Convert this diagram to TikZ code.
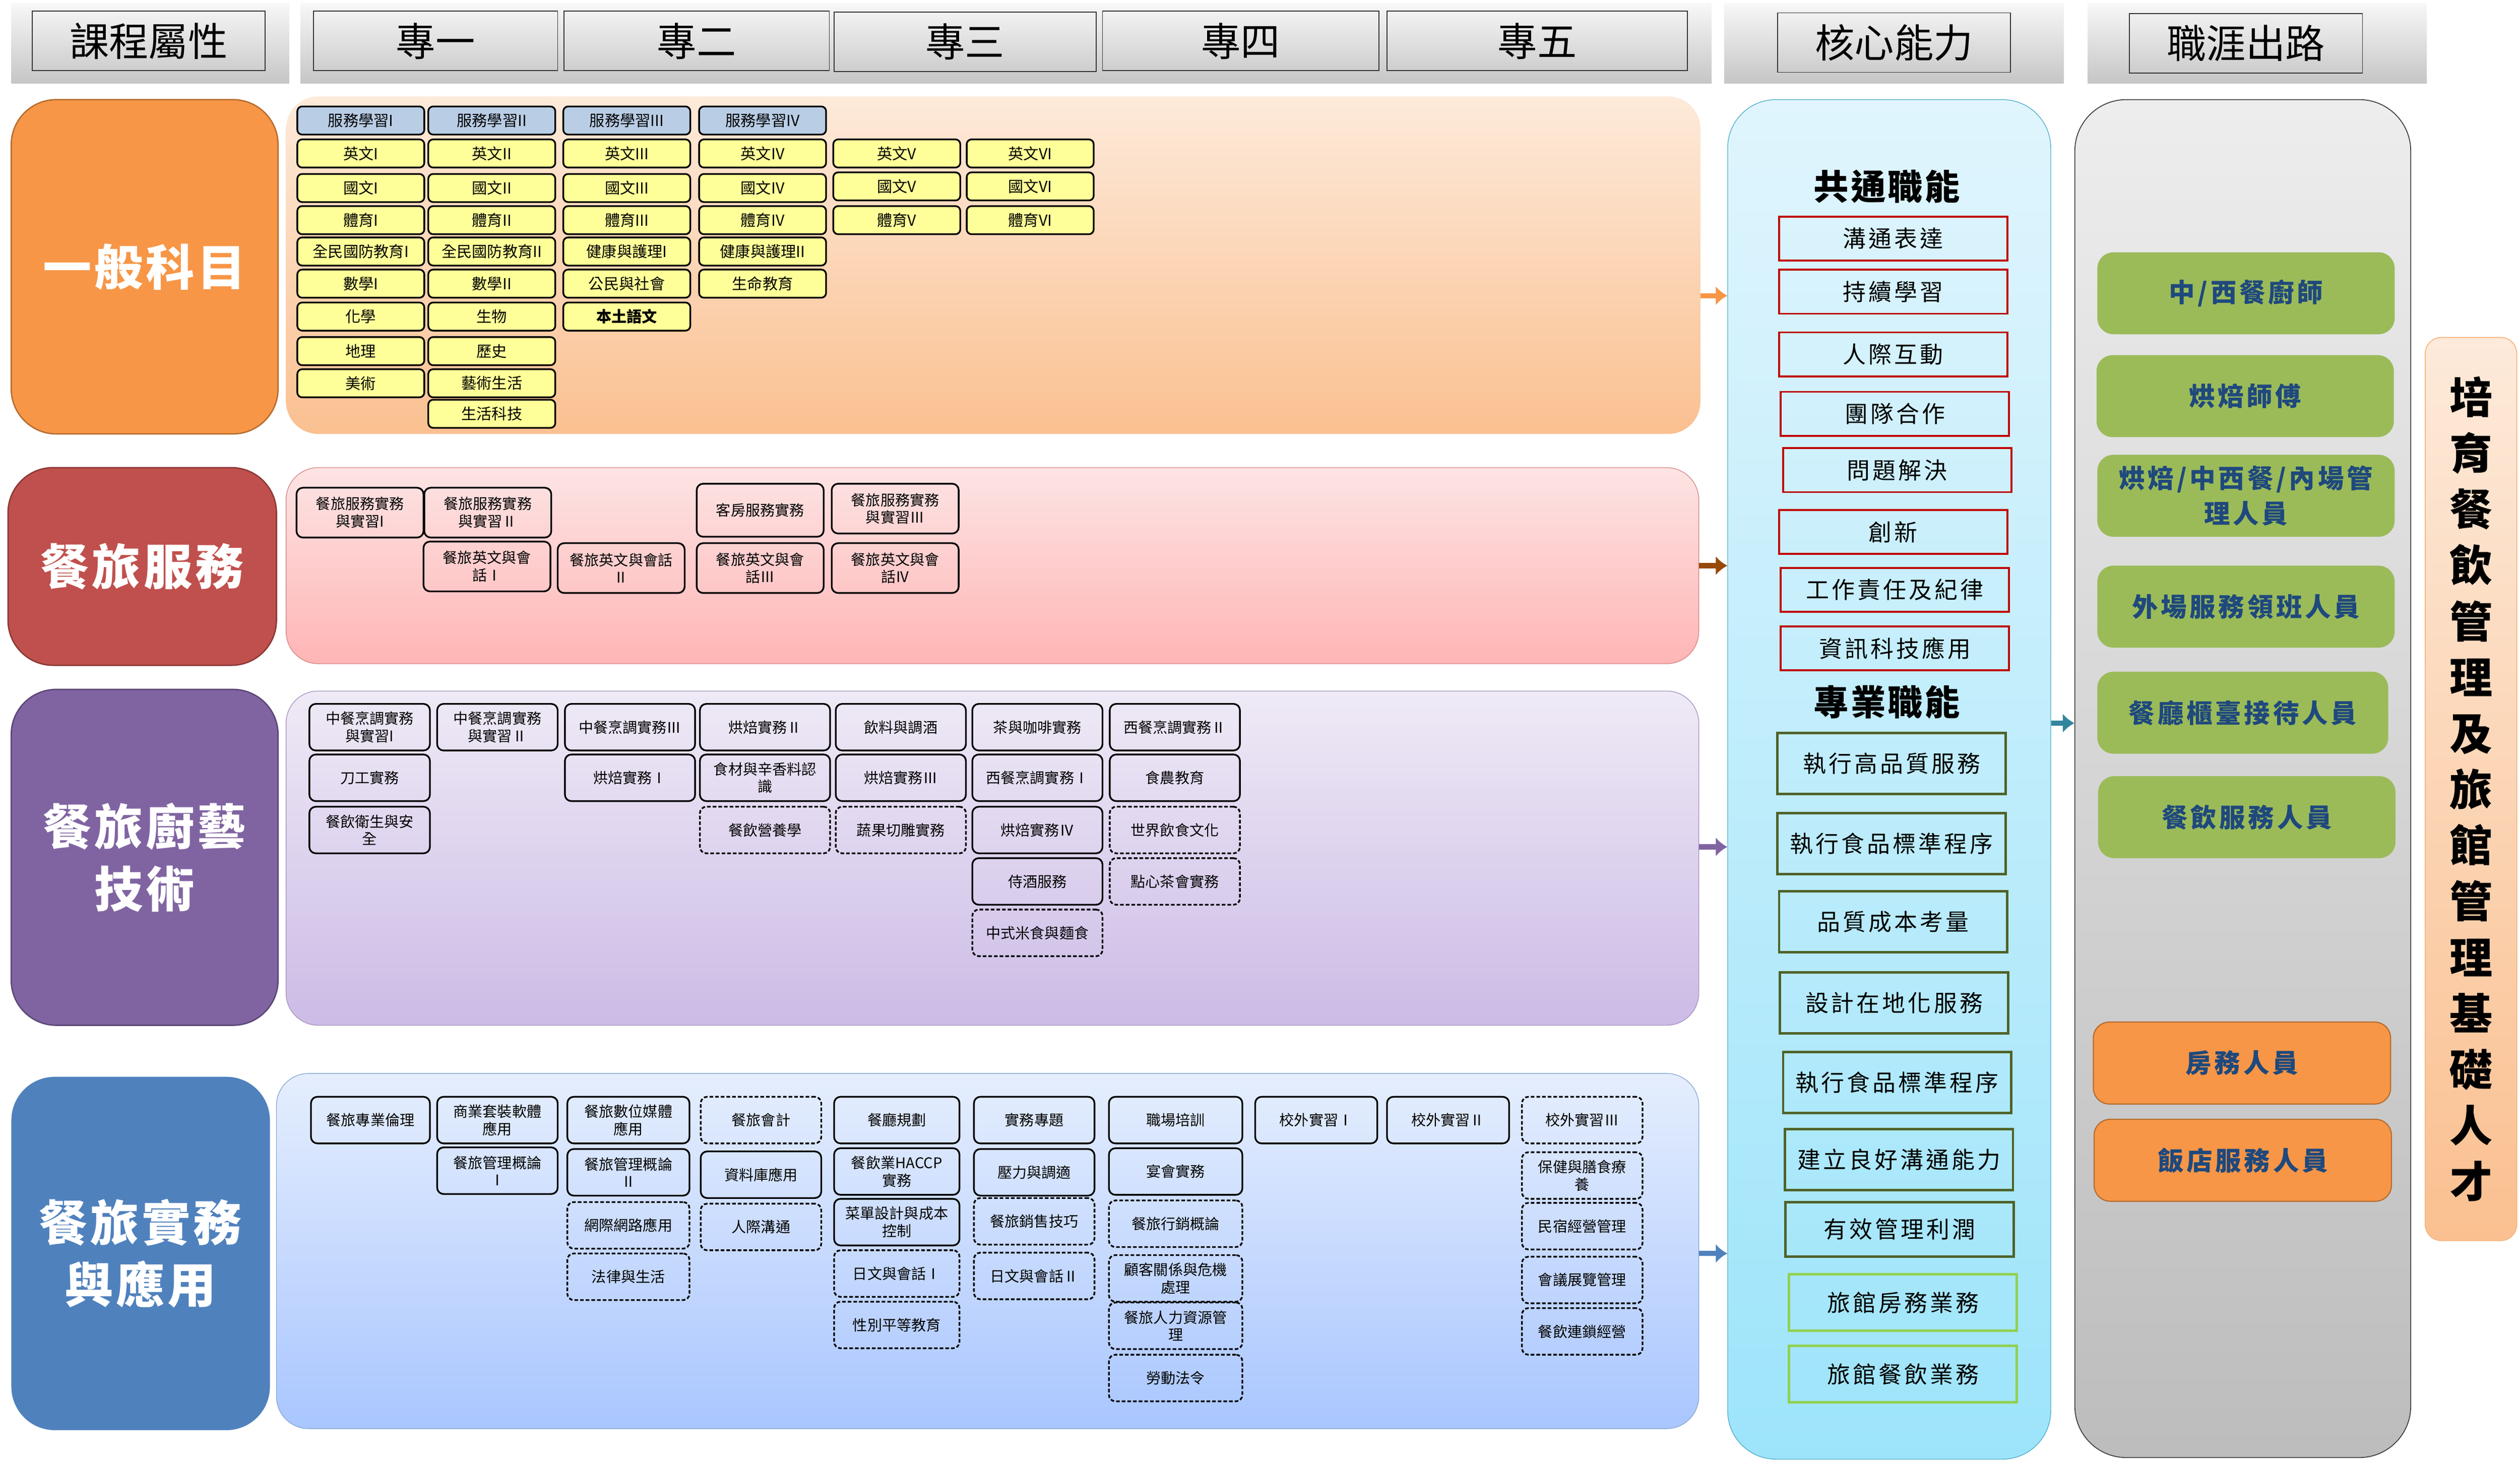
\documentclass[tikz,border=0pt]{standalone}
\usepackage{fontspec}
\setmainfont{Noto Sans CJK TC}
\newfontfamily\espace[LetterSpace=6]{Noto Sans CJK TC}
\newfontfamily\espacebis[LetterSpace=11]{Noto Sans CJK TC}
\usetikzlibrary{arrows.meta}

\definecolor{orangeC}{HTML}{F79646}
\definecolor{orangeB}{HTML}{B66D31}
\definecolor{rougeC}{HTML}{C0504D}
\definecolor{rougeB}{HTML}{8C3836}
\definecolor{violetC}{HTML}{8064A2}
\definecolor{violetB}{HTML}{5C4776}
\definecolor{bleuC}{HTML}{4F81BD}
\definecolor{jaune}{HTML}{FFFF99}
\definecolor{bleuP}{HTML}{B9CDE5}
\definecolor{rouge}{HTML}{C00000}
\definecolor{olive}{HTML}{4F6228}
\definecolor{vertC}{HTML}{92D050}
\definecolor{vertM}{HTML}{9BBB59}
\definecolor{bleuT}{HTML}{1F497D}
\definecolor{cyanB}{HTML}{4BACC6}
\definecolor{sarcelle}{HTML}{31859C}
\definecolor{brun}{HTML}{984807}
\definecolor{p1h}{HTML}{FDEADA}
\definecolor{p1b}{HTML}{FAC090}
\definecolor{p2h}{HTML}{FDE4E4}
\definecolor{p2b}{HTML}{FFB5B5}
\definecolor{p3h}{HTML}{EFEAF6}
\definecolor{p3b}{HTML}{CCBBE6}
\definecolor{p4h}{HTML}{E5EEFD}
\definecolor{p4b}{HTML}{A9C6FF}
\definecolor{ch}{HTML}{E0F5FD}
\definecolor{cb}{HTML}{9DE4FA}

\begin{document}
\begin{tikzpicture}[x=0.5mm, y=-0.5mm]
  \tikzstyle{bande}=[top color=gray!6, bottom color=gray!45];
  \tikzstyle{entete}=[draw=black!80, line width=.8pt, minimum height=18.5mm, inner sep=0, font=\fontsize{35}{35}\selectfont];
  \tikzstyle{categorie}=[rounded corners=14mm, line width=1.2pt, text=white, align=center, font=\espace\bfseries\fontsize{43}{55}\selectfont];
  \tikzstyle{panneau}=[rounded corners=10mm, line width=.6pt];
  \tikzstyle{cours}=[draw, line width=1.5pt, rounded corners=1.5mm, fill=jaune, minimum width=39.5mm, minimum height=8.75mm, inner sep=0, font=\fontsize{13.5}{15}\selectfont];
  \tikzstyle{service}=[cours, fill=bleuP];
  \tikzstyle{module}=[draw, line width=1.5pt, rounded corners=2mm, minimum width=39.5mm, minimum height=15.5mm, inner sep=0, align=center, font=\fontsize{13}{15.5}\selectfont];
  \tikzstyle{atelier}=[module, minimum height=14.5mm];
  \tikzstyle{option}=[dash pattern=on 3.2pt off 1.8pt];
  \tikzstyle{commun}=[draw=rouge, line width=1.7pt, minimum width=71mm, minimum height=13.7mm, inner sep=0, font=\espacebis\fontsize{20.5}{22}\selectfont];
  \tikzstyle{pro}=[commun, draw=olive, line width=2.2pt, minimum height=19mm];
  \tikzstyle{hotel}=[pro, draw=vertC, minimum height=17.5mm];
  \tikzstyle{soustitre}=[inner sep=0, font=\espace\bfseries\fontsize{31}{31}\selectfont];
  \tikzstyle{metier}=[fill=vertM, rounded corners=5mm, minimum width=92.5mm, minimum height=25.5mm, inner sep=0, align=center, text=bleuT, font=\espacebis\bfseries\fontsize{23}{31}\selectfont];
  \tikzstyle{metierO}=[metier, fill=orangeC, draw=orangeB, line width=1pt];
  \tikzstyle{colonne}=[top color=p1h, bottom color=p1b, draw=orangeC!70, line width=.8pt, rounded corners=5mm, minimum width=28.5mm, minimum height=281mm, align=center, font=\bfseries\fontsize{38}{49.6}\selectfont];
  \tikzstyle{fleche}=[-{Latex[length=3.6mm, width=6mm]}, line width=1.6mm];

  \useasboundingbox (0,0) rectangle (1568,910.75);

  % bandeau du haut
  \shade[bande] (7,2) rectangle (180,52);
  \shade[bande] (187,2) rectangle (1065,52);
  \shade[bande] (1073,2) rectangle (1284,52);
  \shade[bande] (1299,2) rectangle (1510,52);
  \node[entete, minimum width=72.5mm] (h0) at (92.5,25.5) {課程屬性};
  \node[entete, minimum width=76mm] (h1) at (271,25.5) {專一};
  \node[entete, minimum width=82.5mm] (h2) at (433.5,25.5) {專二};
  \node[entete, minimum width=81.5mm] (h3) at (600.5,26) {專三};
  \node[entete, minimum width=86mm] (h4) at (772,25.5) {專四};
  \node[entete, minimum width=93.5mm] (h5) at (956.5,25.5) {專五};
  \node[entete, minimum width=72.5mm] (h6) at (1178.5,26.5) {核心能力};
  \node[entete, minimum width=72.5mm] (h7) at (1397.5,27) {職涯出路};

  % categories
  \node[categorie, fill=orangeC, draw=orangeB, minimum width=83mm, minimum height=104mm] (l1) at (90,166) {一般科目};
  \node[categorie, fill=rougeC, draw=rougeB, minimum width=83.5mm, minimum height=61.5mm] (l2) at (88.5,352.5) {餐旅服務};
  \node[categorie, fill=violetC, draw=violetB, minimum width=83mm, minimum height=104.5mm] (l3) at (90,533.5) {餐旅廚藝\\技術};
  \node[categorie, fill=bleuC, draw=white, line width=3pt, minimum width=81.5mm, minimum height=111mm] (l4) at (87.5,780) {餐旅實務\\與應用};

  % panneaux
  \node[panneau, top color=p1h, bottom color=p1b, minimum width=440mm, minimum height=105mm] (p1) at (618,165) {};
  \node[panneau, top color=p2h, bottom color=p2b, draw=rougeC!70, minimum width=439.5mm, minimum height=61mm] (p2) at (617.5,352) {};
  \node[panneau, top color=p3h, bottom color=p3b, draw=violetC!70, minimum width=439.5mm, minimum height=104mm] (p3) at (617.5,534) {};
  \node[panneau, top color=p4h, bottom color=p4b, draw=bleuC!70, minimum width=442.5mm, minimum height=110.5mm] (p4) at (614.5,778.5) {};
  \node[panneau, rounded corners=15mm, top color=ch, bottom color=cb, draw=cyanB, minimum width=100.5mm, minimum height=423mm] (core) at (1175.5,485) {};
  \node[panneau, rounded corners=16mm, top color=gray!14, bottom color=gray!52, draw=black!75, line width=.8pt, minimum width=104.5mm, minimum height=422.5mm] (career) at (1395.5,484.5) {};

  % un: general subjects
  \node[service] (g11) at (224.5,75) {服務學習I};
  \node[service] (g12) at (306,75) {服務學習II};
  \node[service] (g13) at (390,75) {服務學習III};
  \node[service] (g14) at (474.5,75) {服務學習IV};
  \node[cours] (g21) at (224.5,95.5) {英文I};
  \node[cours] (g22) at (306,95.5) {英文II};
  \node[cours] (g23) at (390,95.5) {英文III};
  \node[cours] (g24) at (474.5,95.5) {英文IV};
  \node[cours] (g25) at (558,95.5) {英文V};
  \node[cours] (g26) at (641,95.5) {英文VI};
  \node[cours] (g31) at (224.5,117) {國文I};
  \node[cours] (g32) at (306,117) {國文II};
  \node[cours] (g33) at (390,117) {國文III};
  \node[cours] (g34) at (474.5,117) {國文IV};
  \node[cours] (g35) at (558,116) {國文V};
  \node[cours] (g36) at (641,116) {國文VI};
  \node[cours] (g41) at (224.5,137) {體育I};
  \node[cours] (g42) at (306,137) {體育II};
  \node[cours] (g43) at (390,137) {體育III};
  \node[cours] (g44) at (474.5,137) {體育IV};
  \node[cours] (g45) at (558,137) {體育V};
  \node[cours] (g46) at (641,137) {體育VI};
  \node[cours] (g51) at (224.5,156.5) {全民國防教育I};
  \node[cours] (g52) at (306,156.5) {全民國防教育II};
  \node[cours] (g53) at (390,156.5) {健康與護理I};
  \node[cours] (g54) at (474.5,156.5) {健康與護理II};
  \node[cours] (g61) at (224.5,176.5) {數學I};
  \node[cours] (g62) at (306,176.5) {數學II};
  \node[cours] (g63) at (390,176.5) {公民與社會};
  \node[cours] (g64) at (474.5,176.5) {生命教育};
  \node[cours] (g71) at (224.5,197) {化學};
  \node[cours] (g72) at (306,197) {生物};
  \node[cours] (g73) at (390,197) {\bfseries 本土語文};
  \node[cours] (g81) at (224.5,218.5) {地理};
  \node[cours] (g82) at (306,218.5) {歷史};
  \node[cours] (g91) at (224.5,238.5) {美術};
  \node[cours] (g92) at (306,238.5) {藝術生活};
  \node[cours] (g102) at (306,257.5) {生活科技};

  % services
  \node[module] (s1) at (224,319) {餐旅服務實務\\與實習I};
  \node[module] (s2) at (303.5,319) {餐旅服務實務\\與實習Ⅱ};
  \node[module, minimum height=16.5mm] (s3) at (473,317.5) {客房服務實務};
  \node[module] (s4) at (557,316.5) {餐旅服務實務\\與實習Ⅲ};
  \node[module] (s5) at (303,352.5) {餐旅英文與會\\話Ⅰ};
  \node[module] (s6) at (386.5,353.5) {餐旅英文與會話\\Ⅱ};
  \node[module] (s7) at (473,353.5) {餐旅英文與會\\話Ⅲ};
  \node[module] (s8) at (557,353.5) {餐旅英文與會\\話IV};

  % cuisine
  \node[atelier, minimum width=37.5mm] (k11) at (230,452.5) {中餐烹調實務\\與實習I};
  \node[atelier, minimum width=37.5mm] (k12) at (309.5,452.5) {中餐烹調實務\\與實習Ⅱ};
  \node[atelier, minimum width=40.5mm] (k13) at (392,452.5) {中餐烹調實務Ⅲ};
  \node[atelier, minimum width=40.5mm] (k14) at (476,452.5) {烘焙實務Ⅱ};
  \node[atelier, minimum width=40.5mm] (k15) at (560.5,452.5) {飲料與調酒};
  \node[atelier, minimum width=40.5mm] (k16) at (645.5,452.5) {茶與咖啡實務};
  \node[atelier, minimum width=40.5mm] (k17) at (731,452.5) {西餐烹調實務Ⅱ};
  \node[atelier, minimum width=37.5mm] (k21) at (230,484) {刀工實務};
  \node[atelier, minimum width=40.5mm] (k23) at (392,484) {烘焙實務Ⅰ};
  \node[atelier, minimum width=40.5mm] (k24) at (476,484) {食材與辛香料認\\識};
  \node[atelier, minimum width=40.5mm] (k25) at (560.5,484) {烘焙實務Ⅲ};
  \node[atelier, minimum width=40.5mm] (k26) at (645.5,484) {西餐烹調實務Ⅰ};
  \node[atelier, minimum width=40.5mm] (k27) at (731,484) {食農教育};
  \node[atelier, minimum width=37.5mm] (k31) at (230,516.5) {餐飲衛生與安\\全};
  \node[atelier, option, minimum width=40.5mm] (k34) at (476,516.5) {餐飲營養學};
  \node[atelier, option, minimum width=40.5mm] (k35) at (560.5,516.5) {蔬果切雕實務};
  \node[atelier, minimum width=40.5mm] (k36) at (645.5,516.5) {烘焙實務Ⅳ};
  \node[atelier, option, minimum width=40.5mm] (k37) at (731,516.5) {世界飲食文化};
  \node[atelier, minimum width=40.5mm] (k46) at (645.5,548.5) {侍酒服務};
  \node[atelier, option, minimum width=40.5mm] (k47) at (731,548.5) {點心茶會實務};
  \node[atelier, option, minimum width=40.5mm] (k56) at (645.5,580.5) {中式米食與麵食};

  % pratique
  \node[atelier, minimum width=37mm] (a11) at (230.5,697) {餐旅專業倫理};
  \node[atelier, minimum width=37.5mm] (a12) at (309.5,697) {商業套裝軟體\\應用};
  \node[atelier, minimum width=38mm] (a13) at (391,697) {餐旅數位媒體\\應用};
  \node[atelier, option, minimum width=37.5mm] (a14) at (473.5,697) {餐旅會計};
  \node[atelier, minimum width=39mm] (a15) at (558,697) {餐廳規劃};
  \node[atelier, minimum width=37.5mm] (a16) at (643.5,697) {實務專題};
  \node[atelier, minimum width=41.5mm] (a17) at (731.5,697) {職場培訓};
  \node[atelier, minimum width=38mm] (a18) at (819,697) {校外實習Ⅰ};
  \node[atelier, minimum width=38mm] (a19) at (901,697) {校外實習Ⅱ};
  \node[atelier, option, minimum width=37.5mm] (a110) at (984.5,697) {校外實習Ⅲ};
  \node[atelier, minimum width=37.5mm] (a22) at (309.5,728.5) {餐旅管理概論\\Ⅰ};
  \node[atelier, minimum width=38mm] (a23) at (391,729.5) {餐旅管理概論\\Ⅱ};
  \node[atelier, minimum width=37.5mm] (a24) at (473.5,731) {資料庫應用};
  \node[atelier, minimum width=39mm] (a25) at (558,729) {餐飲業HACCP\\實務};
  \node[atelier, minimum width=37.5mm] (a26) at (643.5,729.5) {壓力與調適};
  \node[atelier, minimum width=41.5mm] (a27) at (731.5,729) {宴會實務};
  \node[atelier, option, minimum width=37.5mm] (a210) at (984.5,731.5) {保健與膳食療\\養};
  \node[atelier, option, minimum width=38mm] (a33) at (391,762.5) {網際網路應用};
  \node[atelier, option, minimum width=37.5mm] (a34) at (473.5,763.5) {人際溝通};
  \node[atelier, minimum width=39mm] (a35) at (558,760.5) {菜單設計與成本\\控制};
  \node[atelier, option, minimum width=37.5mm] (a36) at (643.5,760) {餐旅銷售技巧};
  \node[atelier, option, minimum width=41.5mm] (a37) at (731.5,761.5) {餐旅行銷概論};
  \node[atelier, option, minimum width=37.5mm] (a310) at (984.5,763) {民宿經營管理};
  \node[atelier, option, minimum width=38mm] (a43) at (391,794.5) {法律與生活};
  \node[atelier, option, minimum width=39mm] (a45) at (558,792.5) {日文與會話Ⅰ};
  \node[atelier, option, minimum width=37.5mm] (a46) at (643.5,794) {日文與會話Ⅱ};
  \node[atelier, option, minimum width=41.5mm] (a47) at (731.5,795.5) {顧客關係與危機\\處理};
  \node[atelier, option, minimum width=37.5mm] (a410) at (984.5,796.5) {會議展覽管理};
  \node[atelier, option, minimum width=39mm] (a55) at (558,824.5) {性別平等教育};
  \node[atelier, option, minimum width=41.5mm] (a57) at (731.5,825) {餐旅人力資源管\\理};
  \node[atelier, option, minimum width=37.5mm] (a510) at (984.5,828.5) {餐飲連鎖經營};
  \node[atelier, option, minimum width=41.5mm] (a67) at (731.5,857.5) {勞動法令};

  % core
  \node[soustitre] (n1) at (1174,116) {共通職能};
  \node[commun] (r1) at (1178,148.5) {溝通表達};
  \node[commun] (r2) at (1178,181.5) {持續學習};
  \node[commun] (r3) at (1178,220.5) {人際互動};
  \node[commun] (r4) at (1179,257.5) {團隊合作};
  \node[commun] (r5) at (1180.5,292.5) {問題解決};
  \node[commun] (r6) at (1178,331) {創新};
  \node[commun] (r7) at (1179,367) {工作責任及紀律};
  \node[commun] (r8) at (1179,403.5) {資訊科技應用};
  \node[soustitre] (n2) at (1174,437) {專業職能};
  \node[pro] (v1) at (1177,475) {執行高品質服務};
  \node[pro] (v2) at (1177,525) {執行食品標準程序};
  \node[pro] (v3) at (1178,573.5) {品質成本考量};
  \node[pro] (v4) at (1178.5,624) {設計在地化服務};
  \node[pro] (v5) at (1180.5,673.5) {執行食品標準程序};
  \node[pro] (v6) at (1181.5,721.5) {建立良好溝通能力};
  \node[pro, minimum height=17mm] (v7) at (1182,765) {有效管理利潤};
  \node[hotel] (v8) at (1184,810.5) {旅館房務業務};
  \node[hotel] (v9) at (1184,855) {旅館餐飲業務};

  % career
  \node[metier] (m1) at (1397.5,182.5) {中/西餐廚師};
  \node[metier] (m2) at (1397,246.5) {烘焙師傅};
  \node[metier] (m3) at (1397.5,308.5) {烘焙/中西餐/內場管\\理人員};
  \node[metier] (m4) at (1397.5,377.5) {外場服務領班人員};
  \node[metier, minimum width=90.5mm] (m5) at (1395.5,443.5) {餐廳櫃臺接待人員};
  \node[metier] (m6) at (1398,508.5) {餐飲服務人員};
  \node[metierO] (m7) at (1395,661.5) {房務人員};
  \node[metierO] (m8) at (1395.5,722) {飯店服務人員};

  \node[colonne] (but) at (1537.5,491) {培\\育\\餐\\飲\\管\\理\\及\\旅\\館\\管\\理\\基\\礎\\人\\才};

  % fleches
  \coordinate (y1) at (0,184);
  \coordinate (y2) at (0,352);
  \coordinate (y3) at (0,527);
  \coordinate (y4) at (0,780);
  \coordinate (y5) at (0,450);
  \draw[fleche, orangeC] (p1.east |- y1) -- (core.west |- y1);
  \draw[fleche, brun] (p2.east |- y2) -- (core.west |- y2);
  \draw[fleche, violetC] (p3.east |- y3) -- (core.west |- y3);
  \draw[fleche, bleuC] (p4.east |- y4) -- (core.west |- y4);
  \draw[fleche, sarcelle] (core.east |- y5) -- (career.west |- y5);
\end{tikzpicture}
\end{document}
